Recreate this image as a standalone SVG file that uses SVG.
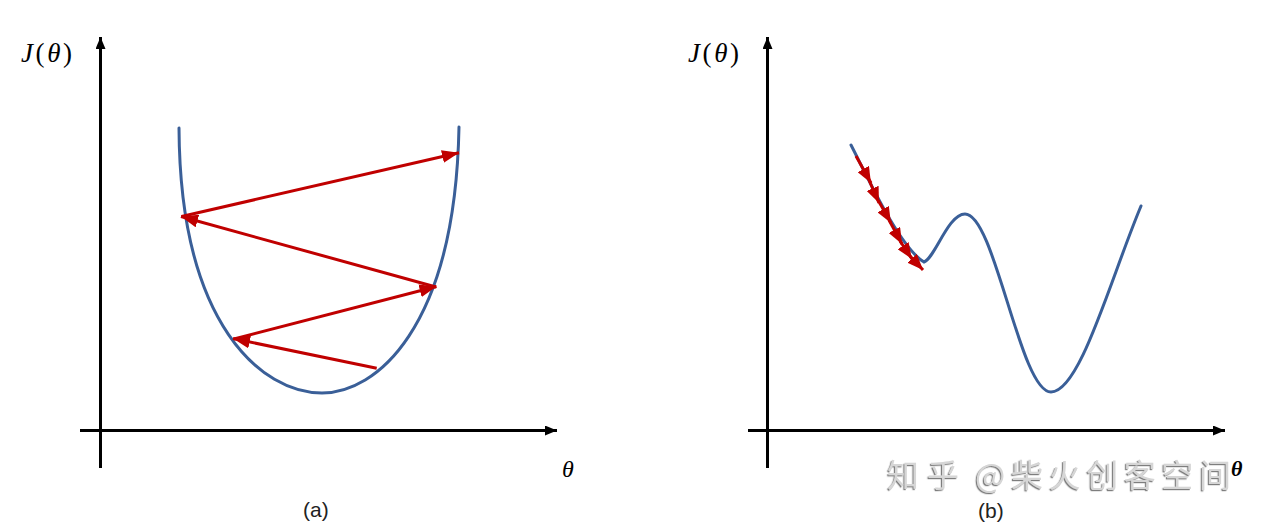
<svg xmlns="http://www.w3.org/2000/svg" width="1267" height="529" viewBox="0 0 1267 529">
<style>
.axis{stroke:#000;stroke-width:3;fill:none}
.curve{stroke:#3A5F98;stroke-width:3;fill:none;stroke-linecap:round}
.step{stroke:#C00000;stroke-width:3;fill:none}
.math{font-family:"Liberation Serif","DejaVu Serif",serif;fill:#000}
.cap{font-family:"Liberation Sans",Arial,sans-serif;font-size:21px;fill:#222}
.wm{font-family:"Noto Sans CJK SC","Liberation Sans",sans-serif;font-size:32px;fill:#d6d6d6}
</style>
<defs>
<marker id="axisHead" markerUnits="userSpaceOnUse" viewBox="0 0 12 10" refX="12" refY="5" markerWidth="12" markerHeight="10" orient="auto"><path d="M0,0 L12,5 L0,10 z" fill="#000"/></marker>
<marker id="redHead" markerUnits="userSpaceOnUse" viewBox="0 0 17 13" refX="17" refY="6.5" markerWidth="17" markerHeight="13" orient="auto"><path d="M0,0 L17,6.5 L0,13 z" fill="#C00000"/></marker>
<marker id="redSmall" markerUnits="userSpaceOnUse" viewBox="0 0 16 13" refX="16" refY="6.5" markerWidth="16" markerHeight="13" orient="auto"><path d="M0,0 L16,6.5 L0,13 z" fill="#C00000"/></marker>
<filter id="emboss" x="-5%" y="-20%" width="110%" height="140%"><feDropShadow dx="-1.2" dy="1.2" stdDeviation="0.6" flood-color="#707070" flood-opacity="0.9"/></filter>
</defs>
<rect width="1267" height="529" fill="#fff"/>

<g id="axes-a">
<line class="axis" x1="80" y1="430.5" x2="557" y2="430.5" marker-end="url(#axisHead)"/>
<line class="axis" x1="100.5" y1="468" x2="100.5" y2="37" marker-end="url(#axisHead)"/>
</g>
<g id="curve-a">
<path class="curve" d="M179,128 C180,325 262,393 322,393 C375,393 455,330 459,127"/>
</g>
<g id="connectors-a">
<line class="step" x1="376.7" y1="368.3" x2="233" y2="338.5" marker-end="url(#redHead)"/>
<line class="step" x1="234" y1="339" x2="436.5" y2="286.5" marker-end="url(#redHead)"/>
<line class="step" x1="436" y1="287" x2="181" y2="216.5" marker-end="url(#redHead)"/>
<line class="step" x1="181.5" y1="216.5" x2="459" y2="152.7" marker-end="url(#redHead)"/>
</g>
<g id="labels-a">
<text class="math" x="21" y="62" font-size="27" textLength="51" lengthAdjust="spacing"><tspan font-style="italic">J</tspan>(<tspan font-style="italic">θ</tspan>)</text>
<text class="math" x="562" y="477" font-size="24" font-style="italic">θ</text>
<text class="cap" x="303" y="517">(a)</text>
</g>

<g id="axes-b">
<line class="axis" x1="748" y1="430.5" x2="1225" y2="430.5" marker-end="url(#axisHead)"/>
<line class="axis" x1="767.5" y1="468" x2="767.5" y2="37" marker-end="url(#axisHead)"/>
</g>
<g id="curve-b">
<path class="curve" d="M851,145 C868,178 900,248 924,262 C935,258 948,214 965,214 C995,214 1020,392 1051,392 C1080,392 1110,280 1141,206"/>
</g>
<g id="connectors-b">
<line class="step" x1="856" y1="156" x2="871" y2="183" marker-end="url(#redSmall)"/>
<line class="step" x1="869" y1="180" x2="879" y2="203" marker-end="url(#redSmall)"/>
<line class="step" x1="878" y1="200" x2="891" y2="223" marker-end="url(#redSmall)"/>
<line class="step" x1="889" y1="220" x2="902" y2="244" marker-end="url(#redSmall)"/>
<line class="step" x1="900" y1="241" x2="912" y2="259" marker-end="url(#redSmall)"/>
<line class="step" x1="910" y1="256" x2="923" y2="270" marker-end="url(#redSmall)"/>
</g>
<g id="labels-b">
<text class="math" x="688" y="62" font-size="27" textLength="51" lengthAdjust="spacing"><tspan font-style="italic">J</tspan>(<tspan font-style="italic">θ</tspan>)</text>
<text class="cap" x="978" y="518">(b)</text>
<g filter="url(#emboss)">
<text class="wm" x="887" y="487" textLength="72" lengthAdjust="spacing">知乎</text>
<text class="wm" x="975" y="487" textLength="256" lengthAdjust="spacing">@柴火创客空间</text>
</g>
<text class="math" x="1231" y="476" font-size="22" font-style="italic" font-weight="bold">θ</text>
</g>
</svg>
